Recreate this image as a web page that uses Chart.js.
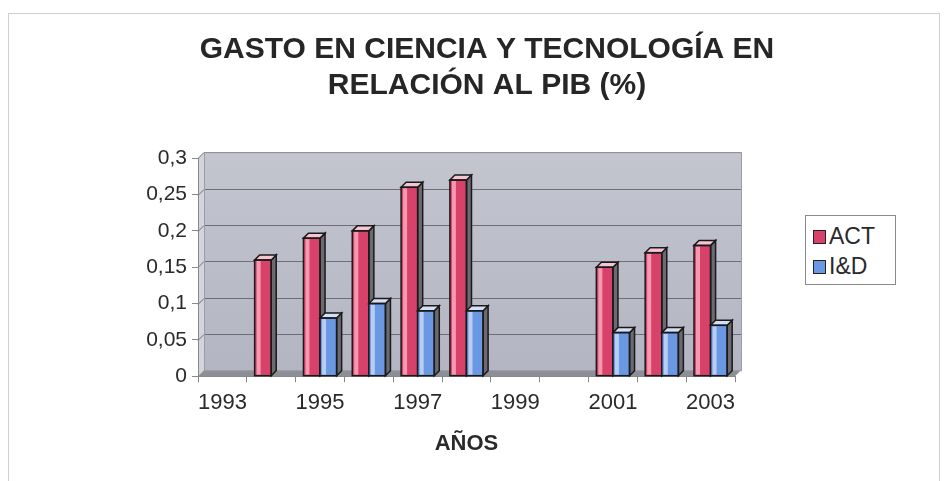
<!DOCTYPE html>
<html lang="es">
<head>
    <meta charset="UTF-8">
    <title>Gasto en ciencia y tecnología</title>
    <script src="https://cdn.jsdelivr.net/npm/chart.js"></script>
    <style>
        html, body { margin: 0; padding: 0; background: #fff; }
        #wrap { position: relative; width: 949px; height: 481px; }
        #frame { position: absolute; left: 8px; top: 13px; width: 932px; height: 480px;
                 border: 1px solid #cfcfcf; box-sizing: border-box; pointer-events: none; }
        #legend { position: absolute; left: 805px; top: 215px; width: 91px; height: 70px;
                  border: 1px solid #8a8a8a; box-sizing: border-box; background: #fff;
                  font-family: "Liberation Sans", Arial, sans-serif; font-size: 23px; color: #2a2a2a; }
        #legend div { position: absolute; left: 7px; height: 26px; line-height: 26px; }
        #legend span { display: inline-block; width: 11px; height: 12px; border: 1.5px solid #222;
                       margin-right: 3px; vertical-align: 0px; }
    </style>
</head>
<body>
<div id="wrap">
    <canvas id="chart" width="949" height="481"></canvas>
    <div id="frame"></div>
    <div id="legend"></div>
</div>
<script>
    // Data
    const years = ['1993', '1994', '1995', '1996', '1997', '1998', '1999', '2000', '2001', '2002', '2003'];
    const actValues = [null, 0.16, 0.19, 0.20, 0.26, 0.27, null, null, 0.15, 0.17, 0.18];
    const idValues = [null, null, 0.08, 0.10, 0.09, 0.09, null, null, 0.06, 0.06, 0.07];
    const yTicks = [0, 0.05, 0.1, 0.15, 0.2, 0.25, 0.3];

    const DEPTH = 6;
    const FONT = '"Liberation Sans", Arial, sans-serif';

    // back wall, side wall and floor of the excel-like 3d plot
    const wallPlugin = {
        id: 'wall',
        beforeDraw(chart) {
            const { ctx, chartArea: a, scales } = chart;
            const d = DEPTH;
            ctx.save();
            // side wall
            ctx.fillStyle = '#d3d5dc';
            ctx.beginPath();
            ctx.moveTo(a.left, a.top); ctx.lineTo(a.left + d, a.top - d);
            ctx.lineTo(a.left + d, a.bottom - d); ctx.lineTo(a.left, a.bottom);
            ctx.closePath(); ctx.fill();
            // back wall
            const g = ctx.createLinearGradient(0, a.top - d, 0, a.bottom - d);
            g.addColorStop(0, '#c3c5cf');
            g.addColorStop(1, '#b3b6c2');
            ctx.fillStyle = g;
            ctx.fillRect(a.left + d, a.top - d, a.right - a.left, a.bottom - a.top);
            // floor
            ctx.fillStyle = '#8d8f97';
            ctx.beginPath();
            ctx.moveTo(a.left, a.bottom); ctx.lineTo(a.left + d, a.bottom - d);
            ctx.lineTo(a.right + d, a.bottom - d); ctx.lineTo(a.right, a.bottom);
            ctx.closePath(); ctx.fill();
            // grid lines on the back wall
            ctx.strokeStyle = '#6c6e78';
            ctx.lineWidth = 1;
            yTicks.forEach(v => {
                if (v === 0) return;
                const y = Math.round(scales.y.getPixelForValue(v)) + 0.5;
                ctx.beginPath();
                ctx.moveTo(a.left, y);
                ctx.lineTo(a.left + d, y - d);
                ctx.lineTo(a.right + d, y - d);
                ctx.stroke();
            });
            ctx.strokeStyle = '#9a9ca6';
            ctx.strokeRect(a.left + d + 0.5, a.top - d + 0.5, a.right - a.left, a.bottom - a.top);
            ctx.restore();
        }
    };

    // bars redrawn with fake depth, dataset by dataset so I&D sits over the ACT side face
    const barDepthPlugin = {
        id: 'barDepth',
        afterDatasetsDraw(chart) {
            const { ctx } = chart;
            const d = DEPTH - 1;
            ctx.save();
            chart.data.datasets.forEach((ds, di) => {
                chart.getDatasetMeta(di).data.forEach((el, i) => {
                    if (ds.data[i] == null) return;
                    const { x, y, base, width } = el.getProps(['x', 'y', 'base', 'width'], true);
                    const l = x - width / 2, r = x + width / 2;
                    ctx.lineWidth = 1.5;
                    ctx.strokeStyle = '#1a1a1a';
                    ctx.fillStyle = ds.backgroundColor;
                    ctx.fillRect(l, y, width, base - y);
                    ctx.fillStyle = ds.highlight;
                    ctx.fillRect(l + 2, y + 1, 4, base - y - 2);
                    // side face
                    ctx.fillStyle = '#6a6a70';
                    ctx.beginPath();
                    ctx.moveTo(r, y); ctx.lineTo(r + d, y - d);
                    ctx.lineTo(r + d, base - d); ctx.lineTo(r, base);
                    ctx.closePath(); ctx.fill(); ctx.stroke();
                    // top face
                    ctx.fillStyle = ds.topColor;
                    ctx.beginPath();
                    ctx.moveTo(l, y); ctx.lineTo(l + d, y - d);
                    ctx.lineTo(r + d, y - d); ctx.lineTo(r, y);
                    ctx.closePath(); ctx.fill(); ctx.stroke();
                    ctx.strokeRect(l, y, width, base - y);
                });
            });
            ctx.restore();
        }
    };

    const fmt = v => String(+v.toFixed(2)).replace('.', ',');

    const chart = new Chart(document.getElementById('chart'), {
        type: 'bar',
        data: {
            labels: years,
            datasets: [
                { label: 'ACT', data: actValues,
                  backgroundColor: '#d8426a', highlight: '#f39ab0', topColor: '#f4c6d2',
                  borderColor: '#1a1a1a', borderWidth: 1.5, borderSkipped: false },
                { label: 'I&D', data: idValues,
                  backgroundColor: '#6b98e2', highlight: '#b7cdf2', topColor: '#d3e0f6',
                  borderColor: '#1a1a1a', borderWidth: 1.5, borderSkipped: false }
            ]
        },
        options: {
            responsive: false,
            animation: false,
            layout: { padding: { left: 35, right: 10, top: 31, bottom: 0 } },
            datasets: { bar: { categoryPercentage: 0.68, barPercentage: 1.0 } },
            plugins: {
                legend: { display: false },
                tooltip: { enabled: false },
                title: {
                    display: true,
                    text: ['GASTO EN CIENCIA Y TECNOLOGÍA EN', 'RELACIÓN AL PIB (%)'],
                    color: '#262626',
                    font: { family: FONT, size: 30, weight: 'bold', lineHeight: 1.22 },
                    padding: { top: 0, bottom: 54 }
                }
            },
            scales: {
                x: {
                    grid: { display: true, drawOnChartArea: false, color: '#888', tickLength: 6 },
                    border: { color: '#888' },
                    ticks: {
                        autoSkip: false, maxRotation: 0, padding: 8, color: '#2a2a2a',
                        font: { family: FONT, size: 22 },
                        callback: (v, i) => (i % 2 === 0 ? years[i] : '')
                    },
                    title: {
                        display: true, text: 'AÑOS', color: '#2a2a2a',
                        font: { family: FONT, size: 22, weight: 'bold' },
                        padding: { top: 6, bottom: 24 }
                    }
                },
                y: {
                    min: 0, max: 0.3,
                    afterFit: s => { s.width = 163; },
                    afterBuildTicks: s => { s.ticks = yTicks.map(v => ({ value: v })); },
                    grid: { display: true, drawOnChartArea: false, color: '#888', tickLength: 6 },
                    border: { color: '#888' },
                    ticks: { padding: 5, color: '#2a2a2a', font: { family: FONT, size: 21 }, callback: v => fmt(v) }
                },
                side: {
                    position: 'right',
                    afterFit: s => { s.width = 204; },
                    grid: { display: false },
                    border: { display: false },
                    ticks: { display: false }
                }
            }
        },
        plugins: [wallPlugin, barDepthPlugin]
    });

    // legend box like the excel one
    const legend = document.getElementById('legend');
    chart.data.datasets.forEach((ds, i) => {
        const row = document.createElement('div');
        row.style.top = (7 + i * 30) + 'px';
        const sw = document.createElement('span');
        sw.style.background = ds.backgroundColor;
        row.appendChild(sw);
        row.appendChild(document.createTextNode(ds.label));
        legend.appendChild(row);
    });
</script>
</body>
</html>
